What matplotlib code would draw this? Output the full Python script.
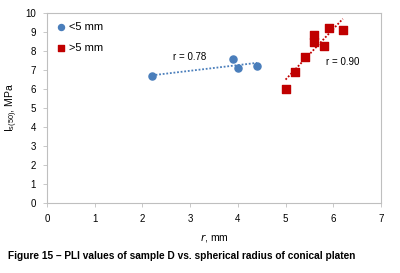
import numpy as np
import matplotlib
matplotlib.use("Agg")
import matplotlib.pyplot as plt

plt.rcParams['font.family'] = ['Liberation Sans', 'DejaVu Sans']

small_r = [2.2, 3.9, 4.0, 4.4]
small_I = [6.67, 7.56, 7.12, 7.23]
large_r = [5.0, 5.2, 5.4, 5.6, 5.6, 5.8, 5.9, 6.2]
large_I = [6.02, 6.89, 7.67, 8.84, 8.46, 8.25, 9.23, 9.12]
x_ticks = [0, 1, 2, 3, 4, 5, 6, 7]
y_ticks = [0, 1, 2, 3, 4, 5, 6, 7, 8, 9, 10]

blue = '#4a7ebb'
red = '#c00000'
grey = '#bfbfbf'

fig = plt.figure(figsize=(4.0, 2.73), dpi=100)
ax = fig.add_axes([47/400, 1-203/273, (381-47)/400, (203-13)/273])

for xs, ys, c in [(small_r, small_I, blue), (large_r, large_I, red)]:
    p = np.polyfit(xs, ys, 1)
    xx = np.array([min(xs), max(xs)])
    ax.plot(xx, np.polyval(p, xx), color=c, lw=1.3, ls=(0, (1, 1)), zorder=2)

ax.scatter(small_r, small_I, s=26, marker='o', color=blue, zorder=3, label='<5 mm')
ax.scatter(large_r, large_I, s=34, marker='s', color=red, zorder=3, label='>5 mm')

ax.text(2.64, 7.68, 'r = 0.78', fontsize=7, va='center', ha='left')
ax.text(5.85, 7.42, 'r = 0.90', fontsize=7, va='center', ha='left')

ax.set_xlim(0, 7)
ax.set_ylim(0, 10)
ax.set_xticks(x_ticks)
ax.set_yticks(y_ticks)
ax.tick_params(labelsize=7, length=3, width=0.6, color=grey)
ax.tick_params(axis='x', pad=5)
ax.tick_params(axis='y', pad=5)
for s in ax.spines.values():
    s.set_color(grey)
    s.set_linewidth(0.8)

ax.set_xlabel(r'$\mathit{r}$, mm', fontsize=7.5, labelpad=6)
ax.set_ylabel(r'I$_{\mathregular{s(50)}}$, MPa', fontsize=7.5, labelpad=4)

leg = ax.legend(loc='upper left', frameon=False, fontsize=8, handletextpad=0.2,
                markerscale=0.85, borderaxespad=0.4, labelspacing=1.0, handlelength=1.0)

fig.text(8/400, 1-256/273, 'Figure 15 – PLI values of sample D vs. spherical radius of conical platen',
         fontsize=7.3, fontweight='bold', va='center', ha='left')

fig.savefig('out.png', dpi=100)
